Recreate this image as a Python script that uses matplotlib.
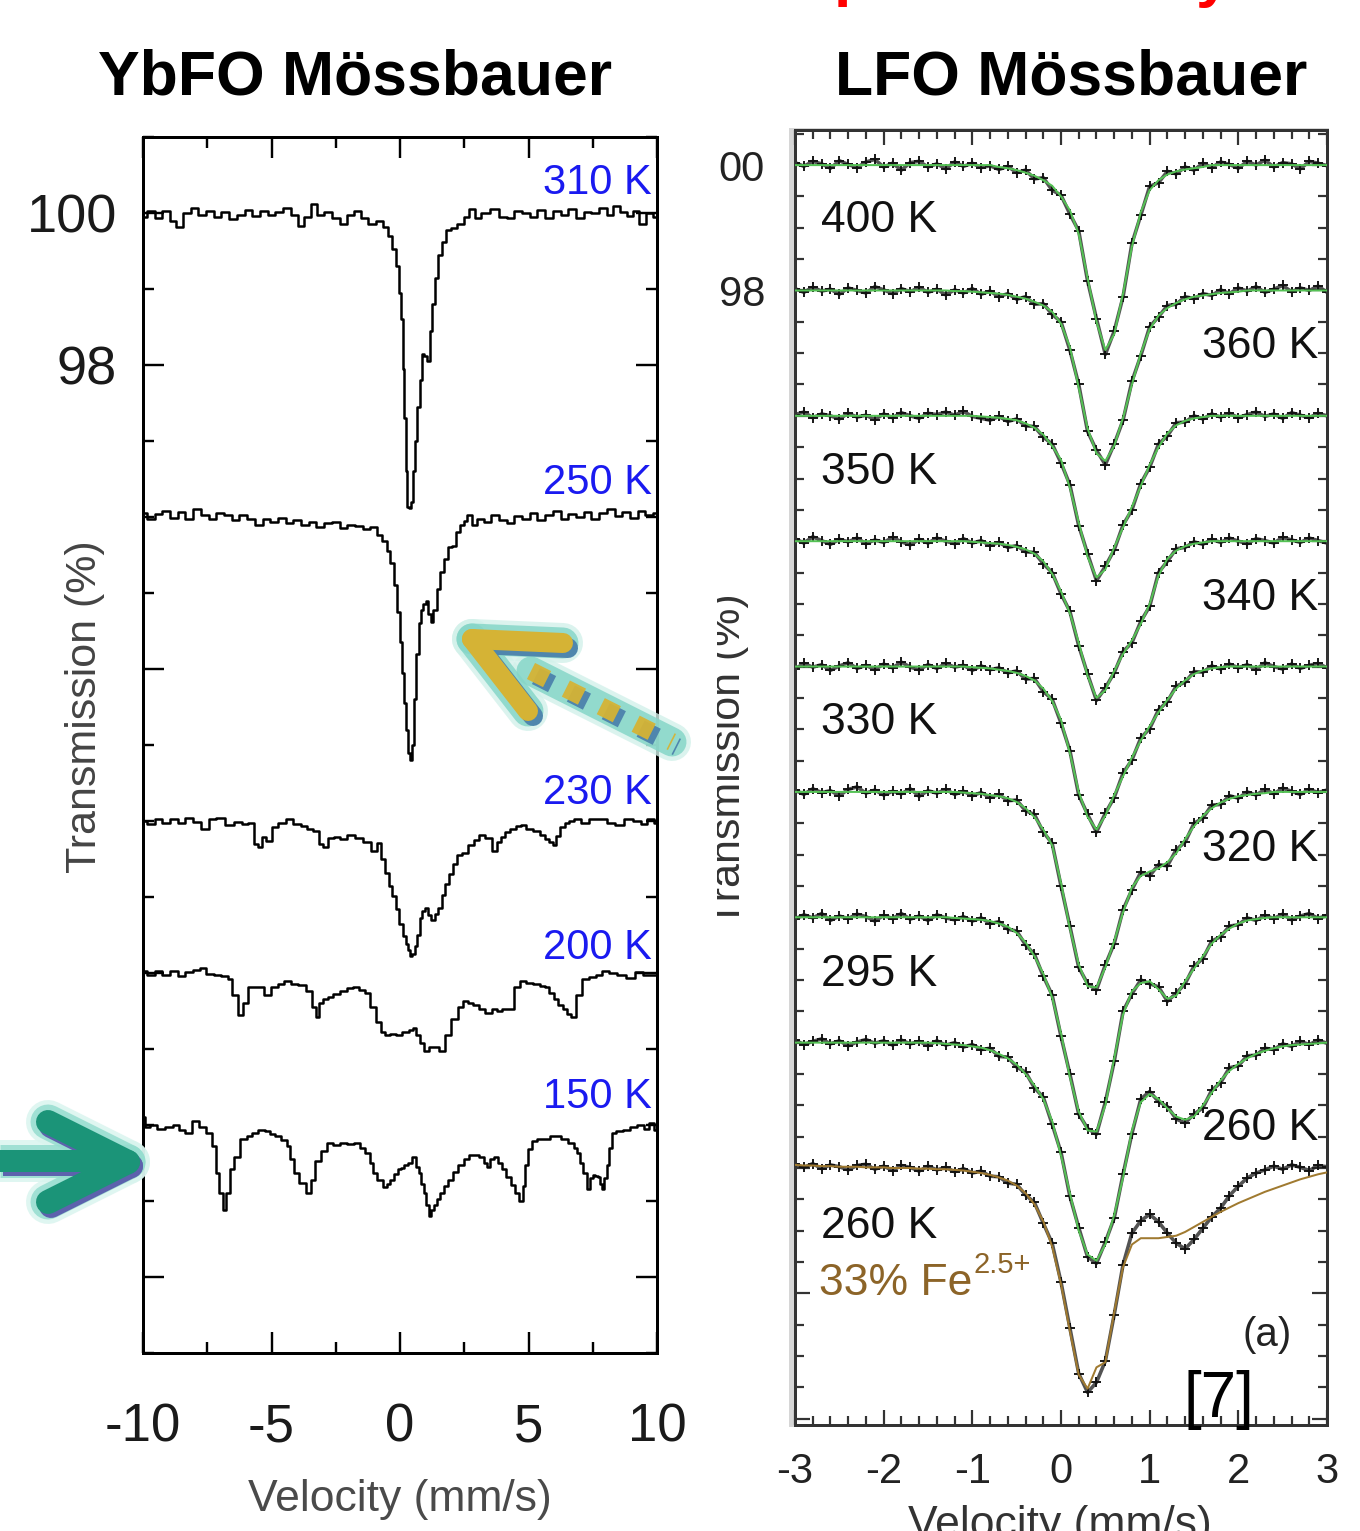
import matplotlib
matplotlib.use('Agg')
import matplotlib.pyplot as plt
from matplotlib.ticker import MultipleLocator, FixedLocator
from matplotlib.transforms import Bbox

plt.rcParams['font.family'] = ['Liberation Sans', 'DejaVu Sans']
plt.rcParams['axes.unicode_minus'] = False

W, H, DPI = 1360, 1531, 100


def pt(p):
    return p * 72.0 / DPI


# ================= YbFO Mössbauer (left panel) : (velocity, transmission) =================
YB_310 = [(-10.0, 99.95), (-9.7, 100.02), (-9.4, 99.94), (-9.1, 100.03), (-8.8, 99.9), (-8.6, 99.82),
          (-8.3, 100.0), (-8.0, 100.06), (-7.7, 99.97), (-7.4, 100.03), (-7.1, 99.95), (-6.8, 100.01),
          (-6.5, 99.92), (-6.2, 99.98), (-5.9, 100.04), (-5.6, 99.96), (-5.3, 100.02), (-5.0, 99.97),
          (-4.7, 100.01), (-4.4, 100.07), (-4.1, 99.98), (-3.85, 99.83), (-3.6, 99.95), (-3.35, 100.12),
          (-3.1, 99.98), (-2.8, 100.01), (-2.5, 99.93), (-2.2, 99.86), (-1.9, 99.97), (-1.65, 100.02),
          (-1.4, 99.94), (-1.1, 99.86), (-0.8, 99.9), (-0.55, 99.82), (-0.4, 99.7), (-0.25, 99.52),
          (-0.1, 99.3), (0.0, 98.95), (0.08, 98.6), (0.15, 97.95), (0.2, 97.3), (0.25, 96.6),
          (0.3, 96.13), (0.4, 96.12), (0.48, 96.2), (0.55, 96.6), (0.62, 97.0), (0.72, 97.45),
          (0.8, 97.8), (0.88, 98.15), (0.98, 98.12), (1.1, 98.05), (1.2, 98.45), (1.3, 98.8),
          (1.42, 99.15), (1.55, 99.45), (1.7, 99.62), (1.9, 99.78), (2.1, 99.8), (2.35, 99.86),
          (2.6, 99.95), (2.8, 100.05), (3.0, 99.93), (3.3, 100.0), (3.7, 100.05), (4.0, 99.95),
          (4.3, 99.93), (4.6, 100.03), (4.9, 100.0), (5.2, 99.95), (5.5, 100.04), (5.8, 99.93),
          (6.1, 100.02), (6.4, 99.97), (6.7, 100.05), (7.0, 99.93), (7.3, 100.01), (7.6, 100.0),
          (7.9, 100.06), (8.2, 99.98), (8.4, 100.09), (8.7, 100.01), (8.95, 99.96), (9.2, 100.02),
          (9.42, 99.86), (9.7, 100.0), (10.0, 99.95)]

YB_250 = [(-10.0, 96.05), (-9.7, 95.98), (-9.4, 96.04), (-9.1, 96.08), (-8.8, 95.99), (-8.5, 96.06),
          (-8.2, 95.97), (-7.9, 96.1), (-7.6, 96.02), (-7.3, 95.98), (-7.0, 96.05), (-6.7, 96.03),
          (-6.4, 95.96), (-6.1, 96.02), (-5.8, 95.98), (-5.5, 95.9), (-5.2, 95.97), (-4.9, 95.93),
          (-4.6, 95.99), (-4.3, 95.92), (-4.0, 95.96), (-3.7, 95.9), (-3.4, 95.93), (-3.1, 95.87),
          (-2.8, 95.92), (-2.5, 95.94), (-2.2, 95.86), (-1.9, 95.9), (-1.6, 95.88), (-1.3, 95.84),
          (-1.0, 95.87), (-0.8, 95.76), (-0.6, 95.68), (-0.45, 95.55), (-0.3, 95.4), (-0.15, 95.1),
          (-0.05, 94.75), (0.05, 94.35), (0.12, 93.95), (0.2, 93.55), (0.28, 93.2), (0.36, 92.9),
          (0.44, 92.8), (0.52, 93.0), (0.6, 93.6), (0.68, 94.2), (0.76, 94.6), (0.86, 94.78),
          (0.96, 94.85), (1.05, 94.9), (1.15, 94.72), (1.25, 94.62), (1.35, 94.78), (1.5, 95.05),
          (1.65, 95.28), (1.8, 95.45), (1.95, 95.6), (2.1, 95.62), (2.25, 95.8), (2.4, 95.9),
          (2.55, 95.95), (2.7, 96.03), (2.9, 95.9), (3.1, 95.98), (3.4, 95.93), (3.7, 96.03),
          (4.0, 95.96), (4.3, 95.92), (4.6, 96.01), (4.9, 95.97), (5.2, 96.05), (5.5, 95.96),
          (5.8, 96.02), (6.1, 96.08), (6.4, 95.97), (6.7, 96.04), (7.0, 96.0), (7.3, 96.07),
          (7.6, 95.98), (7.9, 96.05), (8.2, 96.1), (8.5, 96.01), (8.8, 96.07), (9.1, 95.99),
          (9.4, 96.08), (9.7, 96.03), (10.0, 96.05)]

YB_230 = [(-10.0, 92.0), (-9.7, 91.96), (-9.4, 92.03), (-9.1, 91.97), (-8.8, 92.02), (-8.5, 91.98),
          (-8.2, 92.04), (-7.9, 91.99), (-7.55, 91.89), (-7.3, 92.02), (-7.0, 92.04), (-6.6, 91.95),
          (-6.3, 91.99), (-6.0, 91.96), (-5.8, 91.97), (-5.6, 91.7), (-5.45, 91.66), (-5.3, 91.79),
          (-5.1, 91.74), (-4.87, 91.92), (-4.6, 91.98), (-4.3, 92.02), (-4.0, 91.96), (-3.7, 91.94),
          (-3.5, 91.9), (-3.26, 91.87), (-3.05, 91.7), (-2.92, 91.66), (-2.7, 91.78), (-2.46, 91.79),
          (-2.2, 91.76), (-1.93, 91.82), (-1.6, 91.78), (-1.25, 91.72), (-0.98, 91.61), (-0.8, 91.71),
          (-0.65, 91.5), (-0.5, 91.32), (-0.35, 91.15), (-0.25, 91.01), (-0.1, 90.84), (0.05, 90.65),
          (0.16, 90.49), (0.28, 90.38), (0.36, 90.3), (0.45, 90.23), (0.52, 90.25), (0.62, 90.35),
          (0.72, 90.5), (0.82, 90.72), (0.92, 90.82), (1.03, 90.85), (1.15, 90.76), (1.3, 90.7),
          (1.42, 90.78), (1.57, 90.86), (1.7, 91.02), (1.84, 91.17), (1.98, 91.3), (2.11, 91.43),
          (2.3, 91.55), (2.5, 91.58), (2.78, 91.69), (3.0, 91.75), (3.18, 91.82), (3.45, 91.78),
          (3.71, 91.61), (3.85, 91.72), (3.98, 91.79), (4.2, 91.85), (4.39, 91.89), (4.6, 91.93),
          (4.79, 91.95), (5.05, 91.9), (5.33, 91.87), (5.55, 91.82), (5.73, 91.76), (5.88, 91.72),
          (6.0, 91.69), (6.15, 91.8), (6.33, 91.92), (6.5, 91.97), (6.67, 92.0), (6.9, 92.03),
          (7.2, 91.97), (7.5, 92.02), (7.88, 92.03), (8.2, 91.98), (8.55, 91.95), (8.9, 92.02),
          (9.22, 92.0), (9.5, 91.96), (9.75, 92.02), (10.0, 91.97)]

YB_200 = [(-10.0, 90.03), (-9.7, 89.97), (-9.4, 90.02), (-9.1, 89.98), (-8.8, 90.03), (-8.5, 89.96),
          (-8.2, 90.01), (-7.9, 90.04), (-7.7, 90.07), (-7.4, 89.99), (-7.1, 89.97), (-6.8, 89.96),
          (-6.62, 89.92), (-6.42, 89.71), (-6.19, 89.45), (-6.0, 89.61), (-5.81, 89.81), (-5.6, 89.82),
          (-5.4, 89.81), (-5.2, 89.71), (-4.87, 89.81), (-4.6, 89.86), (-4.4, 89.89), (-4.1, 89.86),
          (-3.8, 89.84), (-3.53, 89.76), (-3.33, 89.55), (-3.24, 89.42), (-3.06, 89.61), (-2.9, 89.66),
          (-2.73, 89.68), (-2.45, 89.72), (-2.19, 89.76), (-1.95, 89.8), (-1.72, 89.81), (-1.45, 89.78),
          (-1.25, 89.74), (-1.05, 89.55), (-0.85, 89.35), (-0.65, 89.22), (-0.51, 89.19), (-0.3, 89.2),
          (-0.04, 89.19), (0.23, 89.22), (0.45, 89.25), (0.57, 89.27), (0.7, 89.18), (0.84, 89.08),
          (1.03, 88.98), (1.2, 89.02), (1.4, 89.03), (1.64, 88.98), (1.84, 89.19), (2.11, 89.4),
          (2.37, 89.55), (2.57, 89.63), (2.75, 89.6), (2.91, 89.58), (3.2, 89.52), (3.45, 89.48),
          (3.7, 89.53), (3.85, 89.5), (4.1, 89.52), (4.32, 89.53), (4.52, 89.81), (4.79, 89.89),
          (5.05, 89.87), (5.33, 89.86), (5.55, 89.83), (5.73, 89.81), (5.9, 89.74), (6.07, 89.66),
          (6.25, 89.58), (6.4, 89.53), (6.6, 89.46), (6.74, 89.42), (6.94, 89.71), (7.2, 89.92),
          (7.5, 89.95), (7.74, 89.97), (8.0, 90.02), (8.28, 90.0), (8.6, 89.97), (8.95, 89.94),
          (9.3, 90.01), (9.6, 89.98), (10.0, 89.97)]

YB_150 = [(-10.0, 88.1), (-9.85, 87.98), (-9.6, 88.0), (-9.3, 87.95), (-9.0, 87.97), (-8.7, 88.0),
          (-8.5, 87.93), (-8.2, 87.9), (-7.95, 88.05), (-7.7, 87.98), (-7.42, 87.89), (-7.22, 87.73),
          (-7.08, 87.37), (-6.99, 87.11), (-6.82, 86.88), (-6.69, 87.11), (-6.55, 87.42), (-6.35, 87.58),
          (-6.08, 87.81), (-5.85, 87.86), (-5.68, 87.89), (-5.4, 87.93), (-5.14, 87.92), (-4.95, 87.88),
          (-4.74, 87.86), (-4.5, 87.8), (-4.33, 87.73), (-4.2, 87.55), (-4.07, 87.37), (-3.8, 87.24),
          (-3.53, 87.11), (-3.4, 87.27), (-3.2, 87.53), (-2.93, 87.66), (-2.73, 87.76), (-2.45, 87.74),
          (-2.19, 87.76), (-1.9, 87.75), (-1.65, 87.76), (-1.45, 87.7), (-1.25, 87.63), (-1.1, 87.5),
          (-0.98, 87.37), (-0.78, 87.28), (-0.58, 87.19), (-0.45, 87.23), (-0.31, 87.27), (-0.15, 87.35),
          (-0.04, 87.42), (0.1, 87.44), (0.23, 87.48), (0.4, 87.5), (0.57, 87.58), (0.68, 87.45),
          (0.77, 87.37), (0.87, 87.22), (0.97, 87.11), (1.07, 86.95), (1.17, 86.8), (1.27, 86.88),
          (1.37, 86.95), (1.5, 87.03), (1.64, 87.11), (1.8, 87.2), (1.97, 87.27), (2.17, 87.38),
          (2.37, 87.48), (2.58, 87.55), (2.78, 87.6), (3.0, 87.61), (3.18, 87.58), (3.32, 87.5),
          (3.45, 87.45), (3.58, 87.55), (3.71, 87.58), (3.88, 87.5), (4.05, 87.42), (4.22, 87.32),
          (4.39, 87.21), (4.55, 87.1), (4.72, 87.0), (4.82, 87.2), (4.92, 87.48), (5.05, 87.68),
          (5.19, 87.79), (5.45, 87.82), (5.73, 87.81), (5.95, 87.85), (6.13, 87.86), (6.4, 87.82),
          (6.67, 87.76), (6.84, 87.7), (6.94, 87.63), (7.08, 87.5), (7.2, 87.37), (7.34, 87.16),
          (7.45, 87.3), (7.54, 87.34), (7.64, 87.33), (7.74, 87.32), (7.82, 87.22), (7.9, 87.16),
          (8.0, 87.3), (8.08, 87.48), (8.18, 87.7), (8.28, 87.89), (8.55, 87.92), (8.82, 87.94),
          (9.1, 87.98), (9.35, 88.0), (9.6, 87.95), (9.8, 88.02), (10.0, 87.93)]

YB_SPECTRA = [YB_310, YB_250, YB_230, YB_200, YB_150]
YB_LABELS = ['310 K', '250 K', '230 K', '200 K', '150 K']
YB_LABEL_T = [100.39, 96.45, 92.37, 90.33, 88.37]
YB_XTICKS = [-10, -5, 0, 5, 10]
YB_XTICKLABELS = ['-10', '-5', '0', '5', '10']
YB_XMINOR = [-7.5, -2.5, 2.5, 7.5]
YB_YTICKS = [100, 98, 94, 90, 86]
YB_YTICKLABELS = ['100', '98', '', '', '']

# ================= LFO Mössbauer (right panel) =================
V_LFO = [-3.0, -2.9, -2.8, -2.7, -2.6, -2.5, -2.4, -2.3, -2.2, -2.1,
         -2.0, -1.9, -1.8, -1.7, -1.6, -1.5, -1.4, -1.3, -1.2, -1.1,
         -1.0, -0.9, -0.8, -0.7, -0.6, -0.5, -0.4, -0.3, -0.2, -0.1,
         0.0, 0.1, 0.2, 0.3, 0.4, 0.5, 0.6, 0.7, 0.8, 0.9,
         1.0, 1.1, 1.2, 1.3, 1.4, 1.5, 1.6, 1.7, 1.8, 1.9,
         2.0, 2.1, 2.2, 2.3, 2.4, 2.5, 2.6, 2.7, 2.8, 2.9, 3.0]

DATA_400 = [100.04, 99.98, 100.06, 100.02, 99.95, 100.07, 100.01, 99.96, 100.05, 100.09,
            99.97, 100.03, 99.92, 100.04, 100.06, 99.97, 100.02, 99.94, 100.05, 99.98,
            100.03, 99.96, 99.99, 99.93, 99.98, 99.88, 99.92, 99.78, 99.80, 99.60,
            99.52, 99.22, 98.95, 98.15, 97.55, 96.98, 97.35, 97.90, 98.75, 99.20,
            99.66, 99.72, 99.90, 99.86, 99.97, 99.92, 100.03, 99.96, 100.05, 100.01,
            99.95, 100.06, 100.00, 100.08, 99.97, 100.04, 100.02, 99.94, 100.06, 100.03, 99.99]
FIT_400 = [100.0, 100.0, 100.0, 100.0, 100.0, 100.0, 100.0, 100.0, 100.0, 100.0,
           100.0, 100.0, 100.0, 100.0, 100.0, 100.0, 100.0, 100.0, 100.0, 100.0,
           100.0, 100.0, 100.0, 99.97, 99.95, 99.92, 99.88, 99.83, 99.76, 99.67,
           99.5, 99.28, 98.9, 98.2, 97.5, 97.05, 97.3, 97.95, 98.7, 99.25,
           99.6, 99.76, 99.85, 99.9, 99.93, 99.95, 99.97, 100.0, 100.0, 100.0,
           100.0, 100.0, 100.0, 100.0, 100.0, 100.0, 100.0, 100.0, 100.0, 100.0, 100.0]

DATA_360 = [98.03, 97.97, 98.05, 97.99, 98.02, 97.94, 98.04, 98.00, 97.96, 98.06,
            98.01, 97.95, 98.03, 97.98, 98.05, 97.97, 98.02, 97.93, 98.01, 97.96,
            98.03, 97.94, 97.99, 97.90, 97.95, 97.86, 97.90, 97.78, 97.79, 97.62,
            97.50, 97.05, 96.50, 95.75, 95.45, 95.22, 95.55, 95.93, 96.55, 96.96,
            97.42, 97.58, 97.76, 97.78, 97.90, 97.87, 97.95, 97.92, 98.01, 97.95,
            98.04, 97.99, 98.06, 97.97, 98.02, 98.08, 97.98, 98.04, 98.00, 98.07, 97.97]
FIT_360 = [98.0, 98.0, 98.0, 98.0, 98.0, 98.0, 98.0, 98.0, 98.0, 98.0,
           98.0, 98.0, 98.0, 98.0, 98.0, 98.0, 98.0, 98.0, 97.99, 97.99,
           97.98, 97.97, 97.96, 97.95, 97.93, 97.9, 97.87, 97.82, 97.76, 97.66,
           97.47, 97.1, 96.45, 95.8, 95.4, 95.28, 95.52, 95.97, 96.5, 97.0,
           97.38, 97.6, 97.72, 97.8, 97.86, 97.9, 97.92, 97.94, 97.96, 97.97,
           97.98, 98.0, 98.0, 98.0, 98.0, 98.0, 98.0, 98.0, 98.0, 98.0, 98.0]

DATA_350 = [96.02, 96.06, 95.97, 96.03, 96.00, 95.95, 96.04, 95.98, 96.01, 95.94,
            96.03, 95.97, 96.05, 96.00, 95.96, 96.04, 96.02, 96.06, 96.01, 96.07,
            95.99, 95.96, 95.93, 95.99, 95.91, 95.95, 95.84, 95.83, 95.66, 95.55,
            95.25, 94.90, 94.25, 93.80, 93.37, 93.60, 93.86, 94.26, 94.50, 94.92,
            95.18, 95.55, 95.68, 95.89, 95.90, 96.00, 95.95, 96.03, 95.98, 96.04,
            95.97, 96.02, 96.06, 95.99, 96.03, 95.96, 96.05, 96.01, 95.97, 96.04, 96.00]
FIT_350 = [96.0, 96.0, 96.0, 96.0, 96.0, 96.0, 96.0, 96.0, 96.0, 96.0,
           96.0, 96.0, 96.0, 96.0, 96.0, 96.0, 96.0, 96.0, 96.0, 96.0,
           96.0, 95.99, 95.98, 95.97, 95.95, 95.93, 95.88, 95.81, 95.7, 95.52,
           95.3, 94.85, 94.3, 93.75, 93.42, 93.55, 93.9, 94.22, 94.55, 94.88,
           95.22, 95.5, 95.72, 95.85, 95.92, 95.96, 95.98, 96.0, 96.0, 96.0,
           96.0, 96.0, 96.0, 96.0, 96.0, 96.0, 96.0, 96.0, 96.0, 96.0, 96.0]

DATA_340 = [94.04, 93.97, 94.07, 94.01, 93.95, 94.03, 93.99, 94.05, 93.96, 94.02,
            93.98, 94.06, 93.99, 93.94, 94.03, 93.97, 94.05, 94.00, 93.96, 94.04,
            93.97, 94.01, 93.93, 93.98, 93.90, 93.93, 93.83, 93.82, 93.64, 93.50,
            93.16, 92.88, 92.33, 91.88, 91.46, 91.66, 91.90, 92.24, 92.38, 92.72,
            92.96, 93.50, 93.68, 93.88, 93.90, 93.99, 93.95, 94.03, 93.98, 94.05,
            94.00, 93.96, 94.04, 94.01, 93.97, 94.06, 94.02, 93.98, 94.05, 94.01, 93.97]
FIT_340 = [94.0, 94.0, 94.0, 94.0, 94.0, 94.0, 94.0, 94.0, 94.0, 94.0,
           94.0, 94.0, 94.0, 94.0, 94.0, 94.0, 94.0, 94.0, 94.0, 94.0,
           93.99, 93.98, 93.97, 93.96, 93.94, 93.91, 93.87, 93.8, 93.68, 93.48,
           93.2, 92.85, 92.38, 91.85, 91.5, 91.62, 91.93, 92.2, 92.42, 92.68,
           93.0, 93.45, 93.72, 93.85, 93.92, 93.96, 93.98, 94.0, 94.0, 94.0,
           94.0, 94.0, 94.0, 94.0, 94.0, 94.0, 94.0, 94.0, 94.0, 94.0, 94.0]

DATA_330 = [91.96, 92.05, 91.99, 92.03, 91.94, 92.01, 92.06, 91.97, 92.02, 91.95,
            92.04, 91.98, 92.07, 91.99, 91.95, 92.03, 91.97, 92.05, 91.99, 92.02,
            91.94, 92.01, 91.95, 91.98, 91.90, 91.93, 91.80, 91.81, 91.60, 91.48,
            91.10, 90.66, 89.95, 89.64, 89.36, 89.66, 89.91, 90.30, 90.51, 90.86,
            91.01, 91.31, 91.44, 91.69, 91.75, 91.92, 91.91, 92.01, 91.96, 92.04,
            91.98, 92.03, 91.95, 92.06, 92.00, 91.96, 92.04, 91.97, 92.02, 92.05, 91.98]
FIT_330 = [92.0, 92.0, 92.0, 92.0, 92.0, 92.0, 92.0, 92.0, 92.0, 92.0,
           92.0, 92.0, 92.0, 92.0, 92.0, 92.0, 92.0, 92.0, 92.0, 92.0,
           91.99, 91.98, 91.97, 91.95, 91.93, 91.9, 91.85, 91.78, 91.65, 91.45,
           91.15, 90.62, 90.0, 89.6, 89.4, 89.62, 89.95, 90.25, 90.55, 90.82,
           91.05, 91.27, 91.47, 91.65, 91.78, 91.88, 91.94, 91.97, 91.99, 92.0,
           92.0, 92.0, 92.0, 92.0, 92.0, 92.0, 92.0, 92.0, 92.0, 92.0, 92.0]

DATA_320 = [90.03, 89.96, 90.05, 89.99, 90.02, 89.94, 90.04, 90.08, 89.98, 90.03,
            89.95, 90.01, 89.97, 90.05, 89.93, 90.02, 89.98, 90.04, 89.96, 90.01,
            89.94, 89.99, 89.91, 89.96, 89.86, 89.87, 89.70, 89.64, 89.36, 89.18,
            88.50, 87.86, 87.20, 86.94, 86.84, 87.24, 87.58, 88.12, 88.44, 88.72,
            88.66, 88.84, 88.82, 89.08, 89.20, 89.50, 89.58, 89.79, 89.80, 89.94,
            89.90, 90.00, 89.95, 90.04, 89.97, 90.06, 90.01, 89.96, 90.04, 89.99, 90.03]
FIT_320 = [90.0, 90.0, 90.0, 90.0, 90.0, 90.0, 90.0, 90.0, 90.0, 90.0,
           90.0, 90.0, 90.0, 90.0, 90.0, 90.0, 90.0, 90.0, 90.0, 89.99,
           89.98, 89.97, 89.95, 89.93, 89.9, 89.84, 89.74, 89.6, 89.4, 89.15,
           88.55, 87.82, 87.25, 86.9, 86.88, 87.2, 87.62, 88.08, 88.48, 88.66,
           88.73, 88.78, 88.88, 89.02, 89.25, 89.45, 89.62, 89.74, 89.83, 89.89,
           89.93, 89.95, 89.97, 89.98, 90.0, 90.0, 90.0, 90.0, 90.0, 90.0, 90.0]

DATA_295 = [87.97, 88.04, 87.99, 88.06, 87.95, 88.02, 87.98, 88.05, 88.01, 87.94,
            88.03, 87.98, 88.06, 87.97, 88.02, 87.95, 88.04, 87.99, 87.96, 88.01,
            87.94, 87.99, 87.90, 87.93, 87.81, 87.78, 87.56, 87.41, 87.06, 86.76,
            86.10, 85.50, 84.86, 84.63, 84.54, 85.05, 85.70, 86.50, 86.78, 87.00,
            86.94, 86.89, 86.66, 86.79, 86.94, 87.22, 87.34, 87.62, 87.69, 87.86,
            87.88, 87.99, 87.95, 88.03, 87.98, 88.05, 87.96, 88.02, 88.06, 87.98, 88.03]
FIT_295 = [88.0, 88.0, 88.0, 88.0, 88.0, 88.0, 88.0, 88.0, 88.0, 88.0,
           88.0, 88.0, 88.0, 88.0, 88.0, 88.0, 88.0, 88.0, 87.99, 87.98,
           87.97, 87.96, 87.94, 87.9, 87.85, 87.75, 87.6, 87.38, 87.1, 86.72,
           86.15, 85.45, 84.9, 84.6, 84.58, 85.0, 85.75, 86.45, 86.82, 86.95,
           86.98, 86.85, 86.7, 86.75, 86.98, 87.18, 87.38, 87.58, 87.72, 87.82,
           87.9, 87.95, 87.97, 87.99, 88.0, 88.0, 88.0, 88.0, 88.0, 88.0, 88.0]

DATA_260 = [86.04, 85.97, 86.02, 86.06, 85.98, 86.03, 85.95, 86.01, 86.05, 85.99,
            86.03, 85.96, 86.04, 85.98, 86.02, 85.95, 86.03, 85.96, 86.00, 85.93,
            85.97, 85.89, 85.91, 85.78, 85.77, 85.61, 85.53, 85.28, 85.13, 84.70,
            84.25, 83.55, 83.05, 82.58, 82.48, 82.82, 83.20, 83.90, 84.55, 85.10,
            85.22, 85.06, 84.98, 84.78, 84.72, 84.86, 84.96, 85.24, 85.36, 85.60,
            85.63, 85.79, 85.80, 85.91, 85.89, 85.98, 85.94, 86.02, 85.97, 86.04, 85.99]
FIT_260 = [86.0, 86.0, 86.0, 86.0, 86.0, 86.0, 86.0, 86.0, 86.0, 86.0,
           86.0, 86.0, 86.0, 86.0, 86.0, 86.0, 85.99, 85.98, 85.97, 85.96,
           85.94, 85.92, 85.88, 85.82, 85.75, 85.65, 85.5, 85.32, 85.1, 84.75,
           84.2, 83.6, 83.0, 82.62, 82.52, 82.78, 83.25, 83.85, 84.6, 85.05,
           85.18, 85.1, 84.95, 84.82, 84.77, 84.82, 85.0, 85.2, 85.4, 85.55,
           85.66, 85.75, 85.82, 85.87, 85.91, 85.94, 85.96, 85.97, 85.98, 85.99, 86.0]

DATA_260B = [84.06, 84.01, 84.07, 83.99, 84.05, 84.02, 83.97, 84.04, 84.06, 83.98,
             84.03, 83.96, 84.04, 84.01, 83.95, 84.03, 83.97, 84.01, 83.94, 83.99,
             83.92, 83.95, 83.87, 83.86, 83.76, 83.74, 83.57, 83.45, 83.12, 82.80,
             82.18, 81.45, 80.72, 80.42, 80.58, 80.92, 81.66, 82.46, 82.96, 83.16,
             83.26, 83.14, 82.96, 82.80, 82.71, 82.86, 83.04, 83.22, 83.36, 83.56,
             83.71, 83.84, 83.92, 83.97, 84.03, 83.98, 84.05, 84.01, 83.96, 84.04, 84.02]
FIT_260B = [84.05, 84.04, 84.04, 84.03, 84.03, 84.02, 84.02, 84.02, 84.01, 84.01,
            84.01, 84.0, 84.0, 84.0, 83.99, 83.99, 83.98, 83.98, 83.97, 83.96,
            83.94, 83.92, 83.89, 83.85, 83.8, 83.72, 83.6, 83.42, 83.15, 82.75,
            82.15, 81.4, 80.7, 80.48, 80.82, 80.9, 81.7, 82.42, 82.78, 82.88,
            82.88, 82.88, 82.9, 82.92, 82.98, 83.06, 83.14, 83.22, 83.3, 83.37,
            83.44, 83.5, 83.56, 83.62, 83.67, 83.72, 83.77, 83.82, 83.86, 83.9, 83.93]

LFO_DATA = [DATA_400, DATA_360, DATA_350, DATA_340, DATA_330, DATA_320, DATA_295, DATA_260, DATA_260B]
LFO_FITS = [FIT_400, FIT_360, FIT_350, FIT_340, FIT_330, FIT_320, FIT_295, FIT_260, FIT_260B]
LFO_FIT_COLORS = ['#55c255'] * 8 + ['#a07a30']
LFO_LABELS = ['400 K', '360 K', '350 K', '340 K', '330 K', '320 K', '295 K', '260 K', '260 K']
LFO_LABEL_SIDE = ['L', 'R', 'L', 'R', 'L', 'R', 'L', 'R', 'L']
LFO_LABEL_T = [99.11, 97.10, 95.10, 93.09, 91.10, 89.08, 87.08, 84.63, 83.06]
LFO_XTICKS = [-3, -2, -1, 0, 1, 2, 3]
LFO_XTICKLABELS = ['-3', '-2', '-1', '0', '1', '2', '3']
LFO_YTICKS = [80, 82, 84, 86, 88, 90, 92, 94, 96, 98, 100]
LFO_YTICKLABELS = ['', '', '', '', '', '', '', '', '', '98', '00']

# ================= figure =================
fig = plt.figure(figsize=(W / DPI, H / DPI), dpi=DPI)
fig.patch.set_facecolor('white')


def frac(x0, y0, x1, y1):
    return [x0 / W, 1 - y1 / H, (x1 - x0) / W, (y1 - y0) / H]


# ---- left panel ----
axL = fig.add_axes(frac(143, 137, 657, 1353))
for spec in YB_SPECTRA:
    v = [p[0] for p in spec]
    t = [p[1] for p in spec]
    axL.plot(v, t, color='black', lw=pt(2.5), drawstyle='steps-mid')
for lab, ty in zip(YB_LABELS, YB_LABEL_T):
    axL.text(9.8, ty, lab, color='#1a1af0', fontsize=30, ha='right', va='center')
axL.set_xlim(-10, 10)
axL.set_ylim(85, 101)
axL.set_xticks(YB_XTICKS, YB_XTICKLABELS)
axL.xaxis.set_minor_locator(FixedLocator(YB_XMINOR))
axL.set_yticks(YB_YTICKS, YB_YTICKLABELS)
axL.yaxis.set_minor_locator(MultipleLocator(1))
axL.tick_params(which='both', direction='in', top=True, right=True, width=pt(2.4), color='black')
axL.tick_params(which='major', length=pt(21))
axL.tick_params(which='minor', length=pt(11))
axL.tick_params(axis='x', which='major', labelsize=38, pad=pt(50), labelcolor='#1a1a1a')
axL.tick_params(axis='y', which='major', labelsize=39, pad=pt(26), labelcolor='#1a1a1a')
for s in axL.spines.values():
    s.set_linewidth(pt(3))
    s.set_color('black')

# ---- right panel ----
fig.patches.append(plt.Rectangle((789 / W, 1 - 1427 / H), (1329 - 789) / W, (1427 - 128) / H,
                                 transform=fig.transFigure, facecolor='#d6d6d6', edgecolor='none', zorder=-5))
axR = fig.add_axes(frac(795, 130, 1327, 1425))
for data, fit, col in zip(LFO_DATA, LFO_FITS, LFO_FIT_COLORS):
    axR.plot(V_LFO, data, color='#1a1a1a', lw=pt(3.6), alpha=0.75, zorder=2)
    axR.plot(V_LFO, data, ls='none', marker='+', ms=pt(10), mew=pt(1.9), color='#111111', zorder=2)
    axR.plot(V_LFO, fit, color=col, lw=pt(2.0), zorder=3)
for lab, side, ty in zip(LFO_LABELS, LFO_LABEL_SIDE, LFO_LABEL_T):
    if side == 'L':
        axR.text(-2.705, ty, lab, fontsize=32, color='#111111', ha='left', va='center')
    else:
        axR.text(2.905, ty, lab, fontsize=32, color='#111111', ha='right', va='center')
axR.set_xlim(-3, 3)
axR.set_ylim(79.9, 100.56)
axR.set_xticks(LFO_XTICKS, LFO_XTICKLABELS)
axR.xaxis.set_minor_locator(MultipleLocator(0.2))
axR.set_yticks(LFO_YTICKS, LFO_YTICKLABELS)
axR.yaxis.set_minor_locator(MultipleLocator(0.5))
axR.tick_params(which='both', direction='in', top=True, right=True, width=pt(2.2), color='#333333')
axR.tick_params(which='major', length=pt(15))
axR.tick_params(which='minor', length=pt(9))
axR.tick_params(axis='x', which='major', labelsize=30, pad=pt(27), labelcolor='#222222')
axR.tick_params(axis='y', which='major', labelsize=30, pad=pt(30), labelcolor='#222222')
for s in axR.spines.values():
    s.set_linewidth(pt(3))
    s.set_color('#333333')

t33 = axR.text(-2.73, 82.15, '33% Fe', fontsize=32, color='#8c6428', ha='left', va='center')
axR.annotate('2.5+', xy=(1.0, 0.62), xycoords=t33, fontsize=21, color='#8c6428',
             ha='left', va='bottom', xytext=(1, 0), textcoords='offset points')
axR.text(2.33, 81.34, '(a)', fontsize=29, color='#222222', ha='center', va='center')
axR.text(1.78, 80.30, '[7]', fontsize=46, color='black', ha='center', va='center')

# ---- titles / axis labels ----
fig.text(355 / W, 1 - 78 / H, 'YbFO Mössbauer', fontsize=45, fontweight='bold', ha='center', va='center')
fig.text(1071 / W, 1 - 78 / H, 'LFO Mössbauer', fontsize=45, fontweight='bold', ha='center', va='center')
fig.text(834 / W, 1 + 6 / H, 'p', fontsize=45, fontweight='bold', color='red', ha='left', va='baseline')
fig.text(1195 / W, 1 + 5 / H, 'y', fontsize=45, fontweight='bold', color='red', ha='left', va='baseline')

fig.text(400 / W, 1 - 1500 / H, 'Velocity (mm/s)', fontsize=32, color='#4a4a4a', ha='center', va='center')
fig.text(1060 / W, 1 - 1505 / H, 'Velocity (mm/s)', fontsize=32, color='#333333', ha='center', va='top')
fig.text(85 / W, 1 - 707 / H, 'Transmission (%)', fontsize=31, color='#444444', rotation=90,
         ha='center', va='center')
tr = fig.text(729 / W, 1 - 760 / H, 'Transmission (%)', fontsize=31, color='#333333', rotation=90,
              ha='center', va='center')
tr.set_clip_box(Bbox.from_extents(717, 0, 800, H))

# ---- decorative arrows (pixel coordinate overlay) ----
axO = fig.add_axes([0, 0, 1, 1], zorder=10)
axO.set_xlim(0, W)
axO.set_ylim(H, 0)
axO.axis('off')
axO.patch.set_alpha(0)


def stroke(p0, p1, w, color, cap='round', alpha=1.0, dx=0, dy=0, dashes=None):
    ln, = axO.plot([p0[0] + dx, p1[0] + dx], [p0[1] + dy, p1[1] + dy], color=color, lw=pt(w),
                   solid_capstyle=cap, dash_capstyle='butt', alpha=alpha, solid_joinstyle='round')
    if dashes is not None:
        ln.set_dashes(dashes)
    return ln


# teal arrow (left)
TEAL_SEGS = [((0, 1161), (112, 1161), 22, 'butt'),
             ((48, 1122), (128, 1162), 24, 'round'),
             ((48, 1202), (128, 1162), 24, 'round')]
for p0, p1, w, cap in TEAL_SEGS:
    stroke(p0, p1, w + 20, '#d8f4ee', cap, alpha=0.8)
for p0, p1, w, cap in TEAL_SEGS:
    stroke(p0, p1, w + 11, '#95ddcf', cap, alpha=0.85)
for p0, p1, w, cap in TEAL_SEGS:
    stroke(p0, p1, w, '#5d62ad', cap, dx=3, dy=4)
for p0, p1, w, cap in TEAL_SEGS:
    stroke(p0, p1, w, '#1b9478', cap)

# golden dotted arrow
GOLD_HEAD = [((472, 639), (563, 643)), ((472, 639), (528, 711))]
GOLD_DOTS = ((531, 671), (672, 742))
for p0, p1 in GOLD_HEAD:
    stroke(p0, p1, 20 + 20, '#d2f1ea', alpha=0.8)
stroke(GOLD_DOTS[0], GOLD_DOTS[1], 18 + 20, '#d2f1ea', 'round', alpha=0.8)
for p0, p1 in GOLD_HEAD:
    stroke(p0, p1, 20 + 11, '#86d6c8', alpha=0.85)
stroke(GOLD_DOTS[0], GOLD_DOTS[1], 18 + 11, '#86d6c8', 'round', alpha=0.85)
for p0, p1 in GOLD_HEAD:
    stroke(p0, p1, 20, '#4f86ad', dx=5, dy=5)
stroke(GOLD_DOTS[0], GOLD_DOTS[1], 18, '#4f86ad', 'butt', dx=5, dy=5, dashes=(1.0, 1.17))
for p0, p1 in GOLD_HEAD:
    stroke(p0, p1, 20, '#d5b335')
stroke(GOLD_DOTS[0], GOLD_DOTS[1], 18, '#d5b335', 'butt', alpha=0.95, dashes=(1.0, 1.17))

fig.savefig('out.png', dpi=DPI, facecolor='white')
